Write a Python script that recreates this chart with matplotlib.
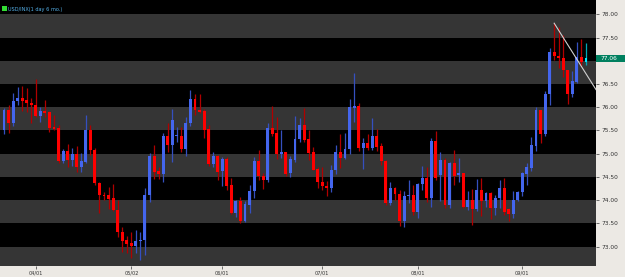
import matplotlib
matplotlib.use("Agg")
import matplotlib.pyplot as plt
from matplotlib.patches import Rectangle
import numpy as np

title = "USD/INX(1 day 6 mo.)"

opens = [75.50, 75.94, 75.67, 76.13, 76.19, 76.15, 76.10, 76.05, 75.82, 75.91,
         75.89, 75.56, 75.55, 74.85, 75.06, 74.87, 74.99, 74.72, 74.83, 75.51,
         75.08, 74.36, 74.11, 74.11, 74.04, 73.79, 73.32, 73.13, 73.07, 73.02,
         73.11, 73.14, 74.11, 74.94, 74.63, 74.56, 75.37, 75.19, 75.37, 75.39,
         75.10, 75.65, 76.17, 75.94, 75.91, 75.53, 74.78, 74.95, 74.62, 74.89,
         74.33, 73.73, 73.99, 73.54, 73.90, 74.20, 74.85, 74.52, 74.43, 75.56,
         75.45, 74.99, 75.04, 74.58, 74.87, 75.32, 75.61, 75.31, 75.03, 74.66,
         74.38, 74.31, 74.26, 74.65, 75.03, 74.90, 75.10, 75.99, 76.03, 75.13,
         75.22, 75.13, 75.38, 75.17, 74.84, 73.93, 74.26, 74.13, 73.54, 74.09,
         74.11, 73.74, 74.35, 74.47, 74.04, 75.27, 74.54, 74.86, 73.90, 74.79,
         74.54, 74.58, 73.86, 74.00, 73.80, 74.22, 73.99, 74.15, 73.83, 74.04,
         74.25, 73.81, 73.70, 74.00, 74.18, 74.56, 74.70, 75.17, 75.94, 75.42,
         76.28, 77.19, 77.11, 77.07, 76.81, 76.29, 76.55, 77.09, 76.98]
highs = [75.98, 76.05, 76.30, 76.43, 76.45, 76.42, 76.19, 76.61, 76.00, 76.16,
         75.91, 75.83, 75.62, 75.10, 75.21, 75.12, 75.17, 75.01, 75.84, 75.62,
         75.12, 74.40, 74.18, 74.29, 74.35, 74.00, 73.43, 73.23, 73.32, 73.36,
         73.32, 74.25, 75.01, 75.19, 74.72, 75.44, 75.67, 75.96, 75.58, 75.58,
         75.80, 76.37, 76.29, 76.29, 75.96, 75.62, 75.04, 74.97, 74.92, 74.92,
         74.47, 74.00, 74.07, 73.97, 74.33, 74.92, 75.07, 74.58, 75.67, 76.03,
         75.78, 75.50, 75.04, 74.94, 75.81, 75.76, 75.99, 75.51, 75.14, 74.71,
         74.71, 74.42, 74.76, 75.19, 75.43, 75.45, 76.17, 76.73, 76.10, 75.33,
         75.43, 75.76, 75.53, 75.22, 74.86, 74.40, 74.28, 74.22, 74.20, 74.43,
         74.33, 74.36, 74.74, 74.72, 75.33, 75.48, 75.04, 74.90, 74.83, 75.08,
         74.90, 74.59, 74.20, 74.23, 74.45, 74.47, 74.18, 74.18, 74.11, 74.43,
         74.47, 73.84, 74.20, 74.20, 74.60, 74.79, 75.35, 76.01, 75.94, 76.34,
         77.27, 77.81, 77.72, 77.56, 76.81, 76.78, 77.41, 77.47, 77.38]
lows = [75.43, 75.45, 75.60, 76.05, 75.92, 75.89, 75.67, 75.78, 75.69, 75.80,
        75.46, 75.51, 74.79, 74.79, 74.71, 74.74, 74.61, 74.61, 74.79, 74.97,
        74.33, 73.73, 74.00, 73.80, 73.77, 73.21, 72.89, 72.85, 72.75, 72.87,
        72.71, 72.82, 73.95, 74.45, 74.45, 74.40, 75.04, 74.81, 75.26, 75.04,
        74.95, 75.60, 75.83, 75.87, 75.33, 74.74, 74.72, 74.43, 74.31, 74.22,
        73.70, 73.64, 73.50, 73.52, 73.72, 74.04, 74.43, 74.23, 74.40, 75.37,
        74.88, 74.90, 74.51, 74.49, 74.83, 75.26, 75.26, 74.87, 74.64, 74.26,
        74.21, 74.09, 74.18, 74.56, 74.69, 74.88, 74.99, 75.69, 75.05, 74.67,
        75.08, 75.08, 75.05, 74.76, 73.90, 73.90, 74.00, 73.44, 73.43, 73.93,
        73.68, 73.61, 74.22, 73.95, 73.85, 74.43, 73.97, 73.82, 73.82, 74.33,
        74.40, 73.82, 73.79, 73.46, 73.77, 73.65, 73.85, 73.60, 73.68, 73.83,
        73.68, 73.54, 73.61, 73.99, 74.08, 74.33, 74.62, 75.05, 75.23, 75.39,
        76.05, 77.02, 76.84, 76.66, 76.06, 76.23, 76.52, 76.88, 76.90]
closes = [75.94, 75.66, 76.14, 76.19, 76.14, 76.09, 76.04, 75.81, 75.91, 75.88,
          75.56, 75.54, 74.85, 75.06, 74.87, 74.99, 74.72, 74.84, 75.51, 75.07,
          74.36, 74.10, 74.09, 74.02, 73.79, 73.32, 73.12, 73.06, 73.02, 73.12,
          73.15, 74.11, 74.94, 74.61, 74.56, 75.37, 75.19, 75.73, 75.39, 75.10,
          75.65, 76.17, 75.93, 75.90, 75.52, 74.78, 74.95, 74.61, 74.89, 74.30,
          73.73, 73.99, 73.54, 73.92, 74.20, 74.85, 74.51, 74.43, 75.56, 75.42,
          74.99, 75.04, 74.57, 74.89, 75.32, 75.61, 75.30, 75.02, 74.65, 74.38,
          74.31, 74.26, 74.65, 75.03, 74.90, 75.10, 76.00, 76.03, 75.13, 75.22,
          75.13, 75.38, 75.15, 74.85, 73.93, 74.26, 74.13, 73.54, 74.09, 74.11,
          73.74, 74.35, 74.47, 74.04, 75.27, 74.47, 74.86, 73.90, 74.79, 74.52,
          74.58, 73.86, 74.00, 73.80, 74.22, 73.99, 74.15, 73.83, 74.04, 74.25,
          73.74, 73.70, 74.00, 74.18, 74.58, 74.72, 75.19, 75.94, 75.42, 76.28,
          77.19, 77.11, 77.07, 76.81, 76.29, 76.57, 77.09, 76.98, 77.06]

tick_pos = [7, 28, 48, 70, 91, 114]
tick_labels = ["04/01", "05/02", "06/01", "07/01", "08/01", "09/01"]
price_ticks = [73.00, 73.50, 74.00, 74.50, 75.00, 75.50, 76.00, 76.50, 77.00, 77.50, 78.00]
band_lows = [72.5, 73.5, 74.5, 75.5, 76.5, 77.5]
last_price = 77.06
trend_x = [121, 130.2]
trend_y = [77.81, 76.38]

W, H = 625, 277
fig = plt.figure(figsize=(W / 100, H / 100), dpi=100)
fig.patch.set_facecolor("#ECE9E4")
ax = fig.add_axes([0, 11 / H, 596 / W, 266 / H])
ax.set_facecolor("black")

for b in band_lows:
    ax.axhspan(b, b + 0.5, color="#353535", lw=0, zorder=0)

n = len(opens)
x = np.arange(n)
o = np.array(opens); h = np.array(highs); l = np.array(lows); c = np.array(closes)
up = c >= o
body_col = np.where(up, "#4466ee", "#ff0000").astype(object)
wick_col = np.where(up, "#3550c0", "#b00000").astype(object)
body_col[-1] = "#00e8ff"
wick_col[-1] = "#00a8b8"

ax.vlines(x, l, h, colors=list(wick_col), lw=0.9, zorder=2)
bottoms = np.minimum(o, c)
heights = np.maximum(np.abs(c - o), 0.025)
ax.bar(x, heights, bottom=bottoms, width=0.64, color=list(body_col), lw=0, zorder=3)

ax.plot(trend_x, trend_y, color="#d0d0d0", lw=0.8, zorder=4)

ax.set_xlim(-0.88, 130.2)
ax.set_ylim(72.58, 78.31)

ax.yaxis.tick_right()
ax.set_yticks(price_ticks)
# the 77.00 label sits under the current-price marker in the reference
ax.set_yticklabels(["" if abs(v - last_price) < 0.2 else f"{v:.2f}" for v in price_ticks])
ax.tick_params(axis="y", length=2, width=0.6, color="#555555", pad=2,
               labelsize=4.2, labelcolor="#333333")
ax.set_xticks(tick_pos)
ax.set_xticklabels(tick_labels)
ax.tick_params(axis="x", length=2, width=0.6, color="#555555", pad=1.5,
               labelsize=3.6, labelcolor="#333333")
for s in ax.spines.values():
    s.set_visible(False)

# current price marker
trans = ax.get_yaxis_transform()
ax.add_patch(Rectangle((1.0, last_price - 0.075), 0.05, 0.15, transform=trans,
                       facecolor="#00805f", edgecolor="none", clip_on=False, zorder=5))
ax.text(1.008, last_price, f"{last_price:.2f}", transform=trans, ha="left", va="center",
        fontsize=4.2, color="white", zorder=6, clip_on=False)

# title
ax.add_patch(Rectangle((0.004, 0.957), 0.0075, 0.02, transform=ax.transAxes,
                       facecolor="#33dd33", edgecolor="none", zorder=6))
ax.text(0.014, 0.965, title, transform=ax.transAxes, ha="left", va="center",
        fontsize=3.6, color="#55b0e8", zorder=6)

fig.savefig("out.png", dpi=100, facecolor=fig.get_facecolor())
